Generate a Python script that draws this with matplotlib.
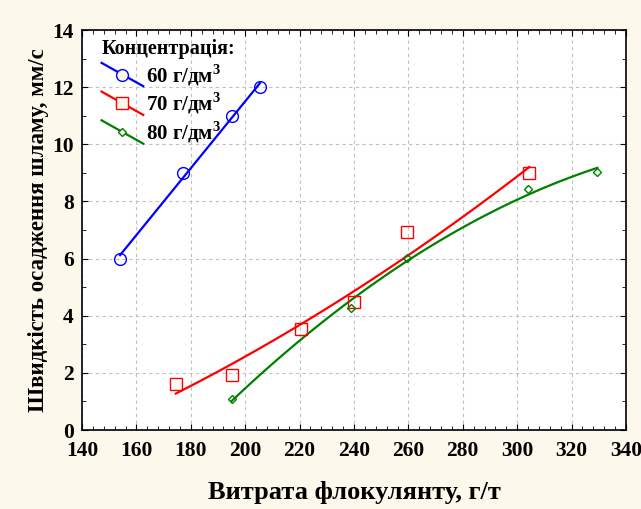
import matplotlib
matplotlib.use("Agg")
from matplotlib import pyplot as plt
from matplotlib.ticker import MultipleLocator
from matplotlib.legend_handler import HandlerLine2D
import numpy as np

plt.rcParams['font.family'] = ['Liberation Serif', 'DejaVu Serif']
plt.rcParams['font.weight'] = 'bold'
plt.rcParams['mathtext.fontset'] = 'custom'
plt.rcParams['mathtext.rm'] = 'Liberation Serif'
plt.rcParams['mathtext.bf'] = 'Liberation Serif:bold'

# flocculant dose, g/t, and settling rate, mm/s
x60 = [154, 177, 195, 205.5]
y60 = [6.0, 9.0, 11.0, 12.0]

x70 = [174.5, 195, 220.5, 240, 259.5, 304.5]
y70 = [1.62, 1.92, 3.52, 4.48, 6.92, 8.98]

x80 = [195, 239, 259.5, 304, 329.5]
y80 = [1.1, 4.28, 6.02, 8.45, 9.04]

labels = ['60 г/дм$^{\\mathbf{3}}$', '70 г/дм$^{\\mathbf{3}}$', '80 г/дм$^{\\mathbf{3}}$']


class SlantedLine(HandlerLine2D):
    # legend sample drawn as a falling diagonal with the marker in the middle
    def create_artists(self, legend, orig_handle, xdescent, ydescent,
                       width, height, fontsize, trans):
        arts = super().create_artists(legend, orig_handle, xdescent, ydescent,
                                      width, height, fontsize, trans)
        for a in arts:
            y = np.asarray(a.get_ydata(), dtype=float)
            a.set_ydata(y + np.linspace(0.8 * height, -0.8 * height, len(y)))
        return arts


fig = plt.figure(figsize=(6.41, 5.09), dpi=100, facecolor='#fdf8ec')
ax = fig.add_axes([82 / 641, 1 - 430 / 509, 544 / 641, 400 / 509])
ax.set_facecolor('white')


def draw(xs, ys, deg, color, marker, ms, label):
    xs = np.array(xs)
    ys = np.array(ys)
    coef = np.polyfit(xs, ys, deg)
    xx = np.linspace(xs.min(), xs.max(), 100)
    ax.plot(xx, np.polyval(coef, xx), color=color, lw=1.6, zorder=3)
    ax.plot(xs, ys, ls='none', marker=marker, ms=ms, mec=color, mfc='none',
            mew=1.0, zorder=4)
    # legend handle: line with a lightly filled marker
    ax.plot([], [], color=color, lw=1.6, marker=marker, ms=ms, mec=color,
            mfc='#fdf8ec', mew=1.0, label=label)


draw(x60, y60, 1, '#0000ff', 'o', 8.5, labels[0])
draw(x70, y70, 2, '#ff0000', 's', 8.5, labels[1])
draw(x80, y80, 2, '#008000', 'D', 4.5, labels[2])

ax.set_xlim(140, 340)
ax.set_ylim(0, 14)
ax.xaxis.set_major_locator(MultipleLocator(20))
ax.xaxis.set_minor_locator(MultipleLocator(4))
ax.yaxis.set_major_locator(MultipleLocator(2))
ax.yaxis.set_minor_locator(MultipleLocator(1))
ax.tick_params(which='both', direction='in', top=True, right=True,
               labelsize=15.5, color='black')
ax.tick_params(which='major', length=4)
ax.tick_params(which='minor', length=3)
ax.tick_params(axis='x', which='major', pad=8)
ax.tick_params(axis='y', which='major', pad=6)
ax.grid(True, which='major', ls=(0, (3, 3)), color='#c0c0c0', lw=0.8)
for s in ax.spines.values():
    s.set_linewidth(1.2)

ax.set_xlabel('Витрата флокулянту, г/т', fontsize=19, fontweight='bold',
              labelpad=14)
ax.set_ylabel('Швидкість осадження шламу, мм/с', fontsize=16.5,
              fontweight='bold', labelpad=2)

leg = ax.legend(loc='upper left', bbox_to_anchor=(0.036, 0.978),
                title='Концентрація:', frameon=False, fontsize=15,
                title_fontproperties={'weight': 'bold', 'size': 14.5},
                handlelength=2.0, borderaxespad=0, labelspacing=0.15,
                handletextpad=0.15, borderpad=0,
                handler_map={matplotlib.lines.Line2D: SlantedLine()})
leg._legend_box.align = 'left'

fig.savefig('out.png', dpi=100, facecolor=fig.get_facecolor())
